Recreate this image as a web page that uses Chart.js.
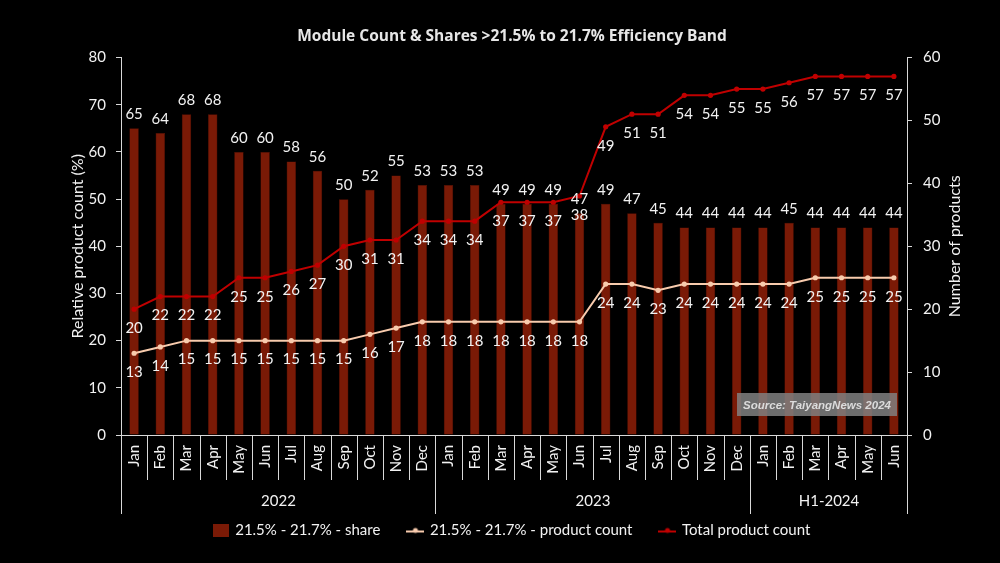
<!DOCTYPE html>
<html><head><meta charset="utf-8">
<script src="https://cdn.jsdelivr.net/npm/chart.js@4.4.1/dist/chart.umd.min.js"></script>
<style>html,body{margin:0;padding:0;background:#000;}#wrap{width:1000px;height:563px;}</style>
</head><body><div id="wrap"><canvas id="c" width="1000" height="563"></canvas></div>
<script>
const months = ['Jan','Feb','Mar','Apr','May','Jun','Jul','Aug','Sep','Oct','Nov','Dec',
                'Jan','Feb','Mar','Apr','May','Jun','Jul','Aug','Sep','Oct','Nov','Dec',
                'Jan','Feb','Mar','Apr','May','Jun'];
const yearLabels = ['2022','2023','H1-2024'];
const yearSpans = [12,12,6];
const shareValues = [65,64,68,68,60,60,58,56,50,52,55,53,
                     53,53,49,49,49,47,49,47,45,44,44,44,
                     44,45,44,44,44,44];
const bandCount = [13,14,15,15,15,15,15,15,15,16,17,18,
                   18,18,18,18,18,18,24,24,23,24,24,24,
                   24,24,25,25,25,25];
const totalCount = [20,22,22,22,25,25,26,27,30,31,31,34,
                    34,34,37,37,37,38,49,51,51,54,54,55,
                    55,56,57,57,57,57];
const seriesNames = ['21.5% - 21.7% - share','21.5% - 21.7% - product count','Total product count'];
const titleText = 'Module Count & Shares >21.5% to 21.7% Efficiency Band';
const sourceText = 'Source: TaiyangNews 2024';
const leftTitle = 'Relative product count (%)';
const rightTitle = 'Number of products';

const BAR = '#7a1a06', RED = '#c00000', PEACH = '#f8cbad', TXT = '#f2f2f2', AX = '#d9d9d9';
const FONT = 'Lato';

function lineSymbol(color){
  const c=document.createElement('canvas'); c.width=18; c.height=10;
  const g=c.getContext('2d'); g.strokeStyle=color; g.lineWidth=2;
  g.beginPath(); g.moveTo(0,6); g.lineTo(18,6); g.stroke();
  g.fillStyle=color; g.beginPath(); g.arc(9,5,2.5,0,Math.PI*2); g.fill(); return c;
}
function boxSymbol(color){
  const c=document.createElement('canvas'); c.width=16; c.height=13;
  const g=c.getContext('2d'); g.fillStyle=color; g.fillRect(0,0,16,13); return c;
}
const legendImgs = [boxSymbol(BAR), lineSymbol(PEACH), lineSymbol(RED)];

const decor = {
  id:'decor',
  afterDatasetsDraw(chart){
    const ctx = chart.ctx;
    ctx.save();
    ctx.font = '15px ' + FONT; ctx.fillStyle = TXT; ctx.textAlign='center'; ctx.textBaseline='middle';
    const m0 = chart.getDatasetMeta(0);
    m0.data.forEach((el,i)=>{ ctx.fillText(String(shareValues[i]), el.x, el.y - 14); });
    const m1 = chart.getDatasetMeta(1);
    m1.data.forEach((el,i)=>{ ctx.fillText(String(bandCount[i]), el.x, el.y + 19); });
    const m2 = chart.getDatasetMeta(2);
    m2.data.forEach((el,i)=>{ ctx.fillText(String(totalCount[i]), el.x, el.y + 19); });
    ctx.restore();
  },
  afterDraw(chart){
    const {ctx, chartArea:a} = chart;
    const x = chart.scales.x;
    const step = x.getPixelForValue(1) - x.getPixelForValue(0);
    const edge = i => Math.round(x.getPixelForValue(0) + (i - 0.5) * step) + 0.5;
    ctx.save();
    ctx.strokeStyle = AX; ctx.lineWidth = 1;
    for (let i=0;i<=months.length;i++){
      ctx.beginPath(); ctx.moveTo(edge(i), a.bottom); ctx.lineTo(edge(i), a.bottom + 45); ctx.stroke();
    }
    let start = 0;
    ctx.font = '15px ' + FONT; ctx.fillStyle = TXT; ctx.textAlign='center'; ctx.textBaseline='middle';
    const bounds=[0];
    yearSpans.forEach((s,k)=>{
      const end = start + s;
      ctx.fillText(yearLabels[k], (edge(start)+edge(end))/2, a.bottom + 66);
      bounds.push(end);
      start = end;
    });
    bounds.forEach(b=>{ ctx.beginPath(); ctx.moveTo(edge(b), a.bottom); ctx.lineTo(edge(b), a.bottom + 79); ctx.stroke(); });
    // right axis title (reads bottom-to-top)
    ctx.save();
    ctx.translate(a.right + 48, (a.top + a.bottom)/2);
    ctx.rotate(-Math.PI/2);
    ctx.font = '16px ' + FONT; ctx.fillStyle = TXT;
    ctx.fillText(rightTitle, 0, 0);
    ctx.restore();
    // source box
    const bw=160, bh=23, bx=a.right-10-bw, by=a.bottom-19-bh;
    ctx.fillStyle='rgba(128,128,128,0.85)'; ctx.fillRect(bx,by,bw,bh);
    ctx.fillStyle='#dcdcdc'; ctx.font='italic bold 11.5px "Liberation Sans"';
    ctx.fillText(sourceText, bx+bw/2, by+bh/2+1);
    ctx.restore();
  }
};

Chart.defaults.font.family = FONT;
Chart.defaults.color = TXT;

new Chart(document.getElementById('c'), {
  data: {
    labels: months,
    datasets: [
      { type:'bar', label: seriesNames[0], data: shareValues, backgroundColor: BAR, borderColor:'#5e1204', borderWidth:0.5,
        yAxisID:'y', order:3, categoryPercentage:1, barPercentage:0.36 },
      { type:'line', label: seriesNames[1], data: bandCount, borderColor: PEACH, backgroundColor: PEACH, borderWidth:2,
        pointRadius:2.6, pointBackgroundColor: PEACH, pointBorderWidth:0, yAxisID:'y1', order:2, tension:0 },
      { type:'line', label: seriesNames[2], data: totalCount, borderColor: RED, backgroundColor: RED, borderWidth:2,
        pointRadius:2.6, pointBackgroundColor: RED, pointBorderWidth:0, yAxisID:'y1', order:1, tension:0 }
    ]
  },
  options: {
    responsive:false, animation:false,
    layout:{ padding:{ top:27, bottom:15, left:24, right:0 } },
    plugins:{
      title:{ display:true, text:titleText, color:'#e6e6e6', font:{ family:'Open Sans', size:15.5, weight:'bold' }, padding:{top:0,bottom:12} },
      legend:{ position:'bottom', labels:{ color:TXT, font:{size:15}, usePointStyle:true, pointStyleWidth:14, padding:28,
        generateLabels(chart){
          const items = Chart.defaults.plugins.legend.labels.generateLabels(chart);
          items.forEach(it=>{ it.pointStyle = legendImgs[it.datasetIndex]; it.fontColor = TXT; });
          items.sort((p,q)=>p.datasetIndex-q.datasetIndex);
          return items;
        } } },
      tooltip:{ enabled:false }
    },
    scales:{
      x:{ grid:{ display:false, drawTicks:false }, border:{ display:true, color:AX, width:1 },
          ticks:{ color:TXT, font:{size:15}, minRotation:90, maxRotation:90, padding:10, autoSkip:false },
          afterFit(s){ s.height = 60; } },
      y:{ position:'left', min:0, max:80, ticks:{ stepSize:10, color:TXT, font:{size:15}, padding:10 },
          grid:{ drawOnChartArea:false, drawTicks:true, tickLength:5, color:AX }, border:{ color:AX, width:1 },
          title:{ display:true, text:leftTitle, color:TXT, font:{size:16}, padding:{top:44,bottom:0} },
          afterFit(s){ s.width = 97; } },
      y1:{ position:'right', min:0, max:60, ticks:{ stepSize:10, color:TXT, font:{size:15}, padding:11 },
          grid:{ drawOnChartArea:false, drawTicks:true, tickLength:5, color:AX }, border:{ color:AX, width:1 },
          afterFit(s){ s.width = 93; } }
    }
  },
  plugins:[decor]
});
</script>
</body></html>
